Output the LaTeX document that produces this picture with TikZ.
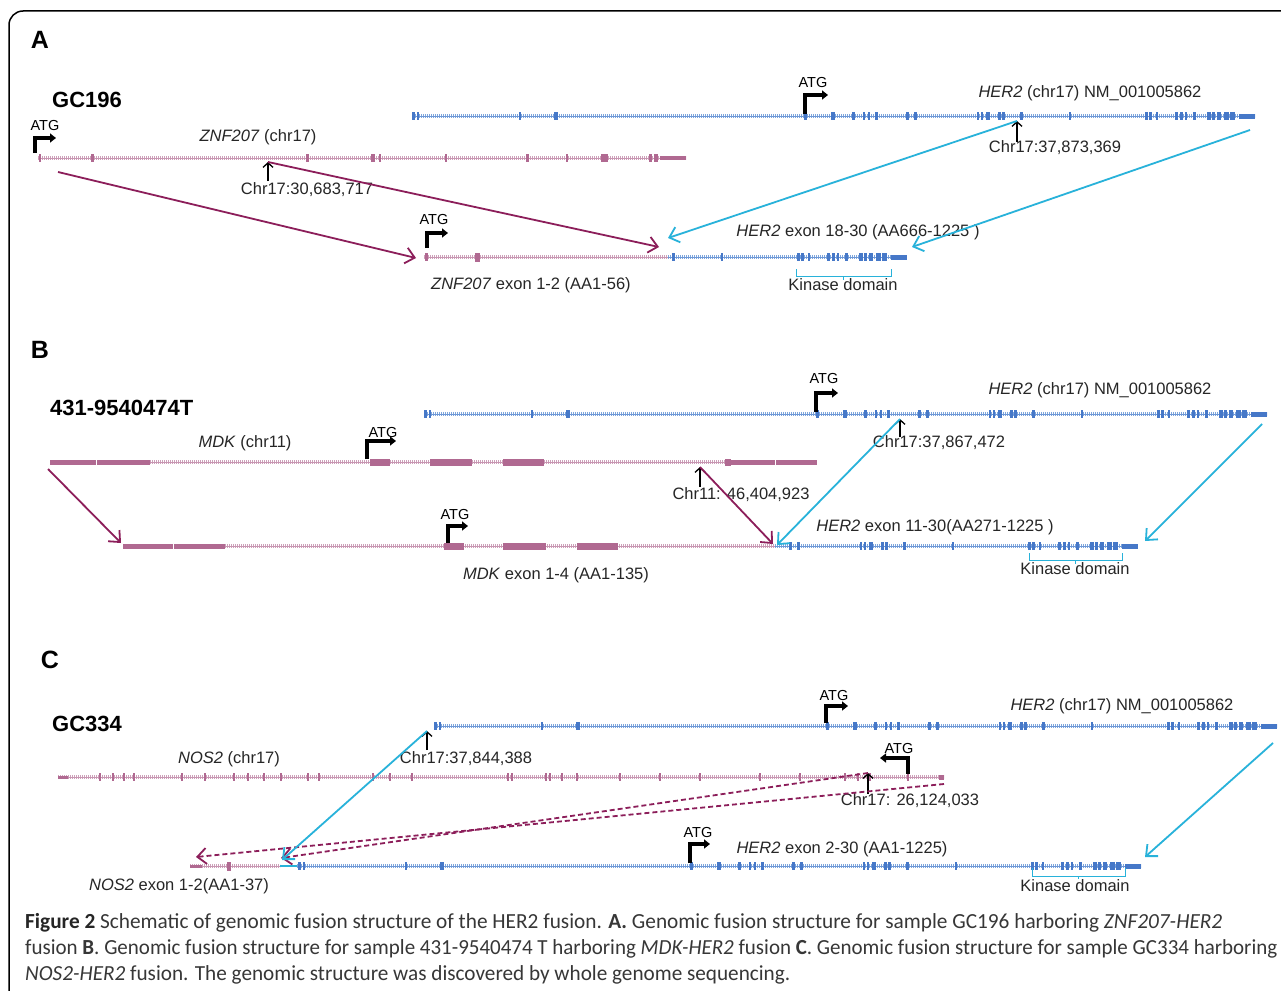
\documentclass[tikz,border=0pt]{standalone}
\usepackage{fontspec}
\usepackage{graphicx}
\newfontfamily\labfont{Liberation Sans}
\newfontfamily\capfont{Carlito}
\usetikzlibrary{arrows.meta}
\definecolor{herblue}{RGB}{70,120,200}
\definecolor{herline}{RGB}{125,165,220}
\definecolor{pinkex}{RGB}{176,105,145}
\definecolor{pinkline}{RGB}{205,160,185}
\definecolor{maroonc}{RGB}{140,30,90}
\definecolor{cyanarr}{RGB}{40,178,218}
\definecolor{captxt}{RGB}{55,55,55}
\def\herlist{0/3,5/2,107/2,143/4,392/3,420/4,440/3,451/2,456/2,463/3,494/3,502/3,565/2,569/2,575/4,586/3,590/3,608/3,657/2,733/3,737/3,744/2,763/3,768/3,773/2,781/3,796/4,800/3,806/4,813/5,819/5}
\newcommand\herbb[3]{%
  \draw[herline, line width=3.2pt, dash pattern=on 0.6pt off 1.4pt] (#1,#3) -- (#2,#3);
  \draw[herline!70!herblue, line width=0.9pt] (#1,#3) -- (#2,#3);}
\newcommand\pinkbb[3]{%
  \draw[pinkline, line width=3.2pt, dash pattern=on 0.6pt off 1.4pt] (#1,#3) -- (#2,#3);
  \draw[pinkline!80!pinkex, line width=0.9pt] (#1,#3) -- (#2,#3);}
% exon: color, x-centre, width, y, height
\newcommand\ex[5]{\fill[#1] ({#2-#3/2},{#4-#5/2}) rectangle ++(#3,#5);}
% block: color, x1, x2, y, height
\newcommand\blk[5]{\fill[#1] (#2,{#4-#5/2}) rectangle (#3,{#4+#5/2});}
\begin{document}
\begin{tikzpicture}[x=1pt,y=-1pt,
  lab/.style={font=\labfont\fontsize{16.5}{18}\selectfont, inner sep=0pt, text=black!85},
  atglab/.style={font=\labfont\fontsize{14.5}{16}\selectfont, inner sep=0pt},
  sample/.style={font=\labfont\bfseries\fontsize{22}{24}\selectfont, inner sep=0pt, anchor=west},
  panel/.style={font=\labfont\bfseries\fontsize{25}{27}\selectfont, inner sep=0pt},
  capline/.style={font=\capfont\fontsize{21.5}{24}\selectfont, inner sep=0pt, anchor=base west, text=captxt},
  atgarrow/.style={line width=3.6pt, -{Triangle[length=6pt,width=9pt]}, line join=miter},
  bparrow/.style={line width=1.3pt, black, -{Straight Barb[length=4.5pt,width=10pt]}},
  mline/.style={line width=1.8pt, draw=maroonc, -{Straight Barb[length=9pt,width=16pt]}},
  cline/.style={line width=1.8pt, draw=cyanarr, -{Straight Barb[length=9pt,width=16pt]}},
  mdash/.style={mline, dash pattern=on 5pt off 3pt},
  kin/.style={draw=cyanarr, line width=1pt}
]
\useasboundingbox (0,0) rectangle (1281,990);
\fill[white] (0,0) rectangle (1281,990);
\draw[line width=1.5pt, rounded corners=14pt] (9,995) -- (9,11) -- (1290,11);

% ================= Panel A =================
\node[panel] (pA) at (40,40) {A};
\node[sample] (sA) at (52,100) {GC196};
% HER2 full
\herbb{413}{1255}{116}
\foreach \o/\w in \herlist {\ex{herblue}{413+\o}{\w}{116}{8}}
\blk{herblue}{1239}{1255}{116}{5}
% ZNF207 full
\pinkbb{38}{686}{158}
\foreach \x/\w in {40/2,92/3,307/3,373/4,380/2,446/2,527/3,567/2,604/7,650/3,656/4} {\ex{pinkex}{\x}{\w}{158}{8}}
\blk{pinkex}{660}{686}{158}{4}
% fused A
\pinkbb{424}{668}{257}
\ex{pinkex}{426}{3}{257}{8}
\ex{pinkex}{477}{5}{257}{9}
\herbb{668}{907}{257}
\foreach \o/\w in \herlist {\ifnum\o>603 \ex{herblue}{65+\o}{\w}{257}{8}\fi}
\blk{herblue}{891}{907}{257}{5}
% ATG arrows
\draw[atgarrow] (805,114) -- (805,95) -- (828,95);
\node[atglab] (atgA1) at (813,83) {ATG};
\draw[atgarrow] (35,153) -- (35,138) -- (56,138);
\node[atglab] (atgA2) at (45,126) {ATG};
\draw[atgarrow] (427,248) -- (427,233) -- (448,233);
\node[atglab] (atgA3) at (434,220) {ATG};
% labels
\node[lab] (herA) at (1090,93) {\textit{HER2} (chr17) NM\_001005862};
\node[lab] (bpAh) at (1055,148) {Chr17:37,873,369};
\node[lab] (znfA) at (258,137) {\textit{ZNF207} (chr17)};
\node[lab] (bpAz) at (307,190) {Chr17:30,683,717};
\node[lab] (fhA) at (858,232) {\textit{HER2} exon 18-30 (AA666-1225 )};
\node[lab] (fzA) at (531,285) {\textit{ZNF207} exon 1-2 (AA1-56)};
\node[lab] (kinA) at (843,285) {Kinase domain};
\draw[kin] (796,269) -- (796,276) -- (891,276) -- (891,269) (843,276) -- (843,280);
% breakpoint arrows
\coordinate (bpAhT) at (1017,121); \coordinate (bpAhB) at (1017,142);
\draw[bparrow] (bpAhB) -- (bpAhT);
\coordinate (bpAzT) at (268,162); \coordinate (bpAzB) at (268,181);
\draw[bparrow] (bpAzB) -- (bpAzT);
% connectors
\coordinate (zA0) at (58,172); \coordinate (fA0) at (416,258);
\coordinate (fA1) at (659,247);
\coordinate (fA2) at (668,238);
\coordinate (hA1) at (1250,130); \coordinate (fA3) at (912,247);
\draw[mline] (zA0) -- (fA0);
\draw[mline] (bpAzT) -- (fA1);
\draw[cline] (bpAhT) -- (fA2);
\draw[cline] (hA1) -- (fA3);

% ================= Panel B =================
\node[panel] (pB) at (40,350) {B};
\node[sample] (sB) at (50,408) {431-9540474T};
\herbb{425}{1267}{414}
\foreach \o/\w in \herlist {\ex{herblue}{425+\o}{\w}{414}{8}}
\blk{herblue}{1251}{1267}{414}{5}
% MDK full
\pinkbb{150}{731}{462}
\blk{pinkex}{50}{96}{462}{5}\blk{pinkex}{97}{150}{462}{5}
\blk{pinkex}{370}{390}{462}{7}\blk{pinkex}{430}{472}{462}{7}\blk{pinkex}{503}{544}{462}{7}
\blk{pinkex}{725}{731}{462}{7}
\blk{pinkex}{731}{775}{462}{5}\blk{pinkex}{776}{817}{462}{5}
% fused B
\pinkbb{225}{775}{546}
\blk{pinkex}{123}{173}{546}{5}\blk{pinkex}{174}{225}{546}{5}
\blk{pinkex}{444}{464}{546}{7}\blk{pinkex}{503}{546}{546}{7}\blk{pinkex}{577}{618}{546}{7}
\herbb{775}{1138}{546}
\foreach \o/\w in \herlist {\ifnum\o>478 \ex{herblue}{296+\o}{\w}{546}{8}\fi}
\blk{herblue}{1122}{1138}{546}{5}
% ATG
\draw[atgarrow] (816,412) -- (816,393) -- (838,393);
\node[atglab] (atgB1) at (824,379) {ATG};
\draw[atgarrow] (367,459) -- (367,441) -- (396,441);
\node[atglab] (atgB2) at (383,433) {ATG};
\draw[atgarrow] (448,543) -- (448,526) -- (468,526);
\node[atglab] (atgB3) at (455,515) {ATG};
% labels
\node[lab] (herB) at (1100,390) {\textit{HER2} (chr17) NM\_001005862};
\node[lab] (bpBh) at (939,443) {Chr17:37,867,472};
\node[lab] (mdkB) at (245,443) {\textit{MDK} (chr11)};
\node[lab] (bpBm) at (741,495) {Chr11: 46,404,923};
\node[lab] (fhB) at (935,527) {\textit{HER2} exon 11-30(AA271-1225 )};
\node[lab] (fmB) at (556,575) {\textit{MDK} exon 1-4 (AA1-135)};
\node[lab] (kinB) at (1075,569) {Kinase domain};
\draw[kin] (1029,553) -- (1029,560) -- (1122,560) -- (1122,553) (1075,560) -- (1075,564);
% breakpoints
\coordinate (bpBhT) at (900,419); \coordinate (bpBhB) at (900,437);
\draw[bparrow] (bpBhB) -- (bpBhT);
\coordinate (bpBmT) at (700,467); \coordinate (bpBmB) at (700,487);
\draw[bparrow] (bpBmB) -- (bpBmT);
% connectors
\coordinate (mB0) at (48,469); \coordinate (fB0) at (121,543);
\coordinate (fB1) at (773,544);
\coordinate (fB2) at (777,545);
\coordinate (hB1) at (1262,424); \coordinate (fB3) at (1145,541);
\draw[mline] (mB0) -- (fB0);
\draw[mline] (bpBmT) -- (fB1);
\draw[cline] (bpBhT) -- (fB2);
\draw[cline] (hB1) -- (fB3);

% ================= Panel C =================
\node[panel] (pC) at (50,660) {C};
\node[sample] (sC) at (52,724) {GC334};
\herbb{435}{1277}{726}
\foreach \o/\w in \herlist {\ex{herblue}{435+\o}{\w}{726}{8}}
\blk{herblue}{1261}{1277}{726}{5}
% NOS2 full
\pinkbb{58}{944}{777}
\blk{pinkex}{58}{68}{777}{3}
\foreach \x in {100,113,124,134,182,205,234,248,264,281,308,319,373,390,412,508,512,546,550,562,577,620,660,700,760,800,845,858,870,908} {\ex{pinkex}{\x}{2.5}{777}{8}}
\blk{pinkex}{939}{944}{777}{5}
% fused C
\pinkbb{190}{280}{866}
\blk{pinkex}{190}{202}{866}{3}
\ex{pinkex}{229}{4}{866}{9}
\draw[cyanarr, line width=2pt] (280,866) -- (297,866);
\herbb{297}{1141}{866}
\foreach \o/\w in \herlist {\ex{herblue}{299+\o}{\w}{866}{8}}
\blk{herblue}{1125}{1141}{866}{5}
% ATG
\draw[atgarrow] (826,723) -- (826,706) -- (848,706);
\node[atglab] (atgC1) at (834,695) {ATG};
\draw[atgarrow] (908,774) -- (908,758) -- (880,758);
\node[atglab] (atgC2) at (899,748) {ATG};
\draw[atgarrow] (690,863) -- (690,844) -- (710,844);
\node[atglab] (atgC3) at (698,832) {ATG};
% labels
\node[lab] (herC) at (1122,706) {\textit{HER2} (chr17) NM\_001005862};
\node[lab] (bpCh) at (466,759) {Chr17:37,844,388};
\node[lab] (nosC) at (229,759) {\textit{NOS2} (chr17)};
\node[lab] (bpCn) at (910,801) {Chr17: 26,124,033};
\node[lab] (fhC) at (842,849) {\textit{HER2} exon 2-30 (AA1-1225)};
\node[lab] (fnC) at (179,886) {\textit{NOS2} exon 1-2(AA1-37)};
\node[lab] (kinC) at (1075,886) {Kinase domain};
\draw[kin] (1032,868) -- (1032,876) -- (1125,876) -- (1125,868) (1078,876) -- (1078,879);
% breakpoints
\coordinate (bpChT) at (427,731); \coordinate (bpChB) at (427,750);
\draw[bparrow] (bpChB) -- (bpChT);
\coordinate (bpCnT) at (868,773); \coordinate (bpCnB) at (868,794);
\draw[bparrow] (bpCnB) -- (bpCnT);
% connectors
\coordinate (nC1) at (944,784);
\coordinate (fC0) at (196,857);
\coordinate (fC1) at (281,858);
\coordinate (fC2) at (282,860);
\coordinate (hC1) at (1273,743); \coordinate (fC3) at (1145,857);
\draw[mdash] (bpCnT) -- (fC1);
\draw[mdash] (nC1) -- (fC0);
\draw[cline] (bpChT) -- (fC2);
\draw[cline] (hC1) -- (fC3);

% ================= Caption =================
\node[capline] (cap1) at (25,928) {\resizebox{1197pt}{\height}{{\bfseries\color{black!85}Figure 2} Schematic of genomic fusion structure of the HER2 fusion. {\bfseries A.} Genomic fusion structure for sample GC196 harboring \textit{ZNF207-HER2}}};
\node[capline] (cap2) at (25,954) {\resizebox{1252pt}{\height}{fusion {\bfseries B}. Genomic fusion structure for sample 431-9540474 T harboring \textit{MDK-HER2} fusion {\bfseries C}. Genomic fusion structure for sample GC334 harboring}};
\node[capline] (cap3) at (25,980) {\resizebox{765pt}{\height}{\textit{NOS2-HER2} fusion. The genomic structure was discovered by whole genome sequencing.}};
\end{tikzpicture}
\end{document}
